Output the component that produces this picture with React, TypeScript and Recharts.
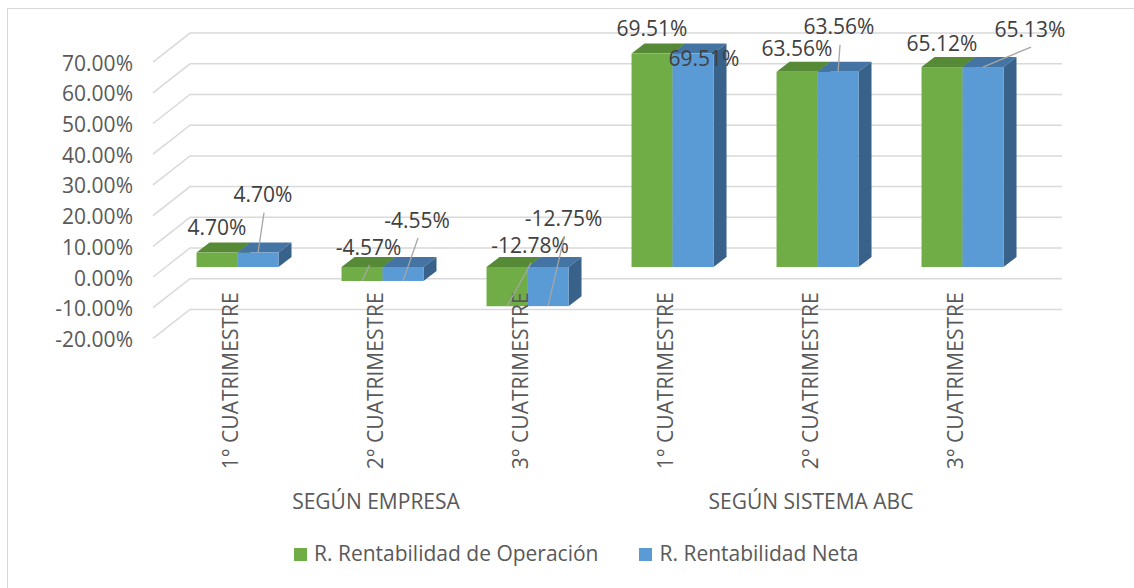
import React from 'react';
import { BarChart, Bar, XAxis, YAxis, CartesianGrid, LabelList, Legend } from 'recharts';

const categories = [
  '1° CUATRIMESTRE',
  '2° CUATRIMESTRE',
  '3° CUATRIMESTRE',
  '1° CUATRIMESTRE',
  '2° CUATRIMESTRE',
  '3° CUATRIMESTRE',
];
const groups = ['SEGÚN EMPRESA', 'SEGÚN SISTEMA ABC'];
const seriesNames = ['R. Rentabilidad de Operación', 'R. Rentabilidad Neta'];
const rentOperacion = [4.7, -4.57, -12.78, 69.51, 63.56, 65.12];
const rentNeta = [4.7, -4.55, -12.75, 69.51, 63.56, 65.13];
const yTicks = [-20, -10, 0, 10, 20, 30, 40, 50, 60, 70];

const data = categories.map((cat, i) => ({
  id: i,
  cat,
  group: groups[Math.floor(i / 3)],
  op: rentOperacion[i],
  neta: rentNeta[i],
}));

// where Excel dropped each data label: dx, dy from the top of the bar face, leader line or not
const opLabelPos = [[0, -25, 0], [6.5, -20, 1], [23, -22, 1], [0, -25, 0], [0, -23, 0], [0, -24, 0]];
const netaLabelPos = [[5, -58, 1], [14, -47, 1], [15.5, -49, 1], [11, 5, 0], [1, -45, 1], [47, -38, 1]];

// fake 3d depth
const DX = 13;
const DY = -10;
const FONT = "'Open Sans', sans-serif";
const AXIS_TEXT = '#595959';
const GREEN = '#70AD47';
const BLUE = '#5B9BD5';

const Box3D = (props: any) => {
  const { x, y, width, height, fill, topFill, sideFill } = props;
  const t = Math.min(y, y + height);
  const b = Math.max(y, y + height);
  const r = x + width;
  return (
    <g>
      <polygon points={`${x},${t} ${r},${t} ${r + DX},${t + DY} ${x + DX},${t + DY}`} fill={topFill} />
      <polygon points={`${r},${t} ${r + DX},${t + DY} ${r + DX},${b + DY} ${r},${b}`} fill={sideFill} />
      <rect x={x} y={t} width={width} height={b - t} fill={fill} />
    </g>
  );
};

const makeLabel = (pos: number[][]) => (p: any) => {
  const vb = p.viewBox && p.viewBox.width !== undefined ? p.viewBox : p;
  const { x, y, width, height } = vb;
  const value = Number(p.value);
  const idx = p.index ?? 0;
  const t = Math.min(y, y + height);
  const b = Math.max(y, y + height);
  const cx = x + width / 2;
  const [dx, dy, lead] = pos[idx];
  const lx = cx + dx;
  const ly = t + dy;
  const endY = value >= 0 ? t : b;
  return (
    <g>
      {lead ? <line x1={lx + 1} y1={ly + 18} x2={cx} y2={endY} stroke="#a6a6a6" strokeWidth={1.3} /> : null}
      <text x={lx} y={ly + 7.5} textAnchor="middle" fontSize={21} fill="#404040" style={{ fontFamily: FONT }}>
        {value.toFixed(2)}%
      </text>
    </g>
  );
};

const renderGridLine = (p: any) => {
  const { x1, x2, y1 } = p;
  const pts = `${x1 - 12.5},${y1 + 10} ${x1 + 24.5},${y1 - 19} ${x2 + 26.5},${y1 - 19}`;
  return <polyline key={p.key ?? `g-${y1}`} points={pts} fill="none" stroke="#d9d9d9" strokeWidth={1.5} />;
};

const YTick = ({ x, y, payload }: any) => (
  <text x={x - 32.5} y={y + 18.5} textAnchor="end" fontSize={21} fill={AXIS_TEXT} style={{ fontFamily: FONT }}>
    {Number(payload.value).toFixed(2)}%
  </text>
);

const CatTick = ({ x, y, payload }: any) => {
  const ty = y - 36;
  return (
    <text
      x={x}
      y={ty}
      transform={`rotate(-90 ${x} ${ty})`}
      textAnchor="end"
      fontSize={21}
      fill={AXIS_TEXT}
      style={{ fontFamily: FONT }}
    >
      {categories[payload.value]}
    </text>
  );
};

const GroupTick = ({ x, y, payload }: any) => {
  if (payload.value % 3 !== 1) return <g />;
  return (
    <text x={x - 7} y={y + 150.6} textAnchor="middle" fontSize={21} fill={AXIS_TEXT} style={{ fontFamily: FONT }}>
      {groups[Math.floor(payload.value / 3)]}
    </text>
  );
};

const renderLegend = () => {
  const colors = [GREEN, BLUE];
  return (
    <div style={{ display: 'flex', alignItems: 'center', fontFamily: FONT, fontSize: 21, color: AXIS_TEXT, lineHeight: 'normal' }}>
      {seriesNames.map((n, i) => (
        <div key={n} style={{ display: 'flex', alignItems: 'center', marginRight: 41 }}>
          <span style={{ display: 'inline-block', width: 13, height: 13, background: colors[i], marginRight: 7, marginTop: 3 }} />
          <span>{n}</span>
        </div>
      ))}
    </div>
  );
};

export default function App() {
  return (
    <div style={{ position: 'absolute', left: 0, top: 0, width: 1134, height: 588, overflow: 'hidden', background: '#fff', fontFamily: FONT }}>
      <div
        style={{
          position: 'absolute',
          left: 7,
          top: 8,
          width: 1300,
          height: 800,
          borderLeft: '1.5px solid #d9d9d9',
          borderTop: '1.5px solid #d9d9d9',
        }}
      />
      <div style={{ position: 'absolute', left: 0, top: 0 }}>
        <BarChart
          width={1134}
          height={588}
          data={data}
          margin={{ top: 52.1, right: 98.5, bottom: 199.6, left: 0 }}
          barGap={0}
          barCategoryGap="21.4%"
        >
          <CartesianGrid vertical={false} horizontal={renderGridLine} />
          <XAxis dataKey="id" type="category" height={30} interval={0} axisLine={false} tickLine={false} tickSize={0} tickMargin={0} tick={<CatTick />} />
          <XAxis xAxisId="grp" dataKey="id" type="category" height={30} interval={0} axisLine={false} tickLine={false} tickSize={0} tickMargin={0} tick={<GroupTick />} />
          <YAxis
            type="number"
            domain={[-20, 70]}
            ticks={yTicks}
            width={165.5}
            axisLine={false}
            tickLine={false}
            tickSize={0}
            tickMargin={0}
            tick={<YTick />}
            interval={0}
          />
          <Legend layout="horizontal" verticalAlign="middle" align="center" wrapperStyle={{ top: 538.6, left: 294, width: 'auto' }} content={renderLegend} />
          <Bar
            dataKey="op"
            name={seriesNames[0]}
            fill={GREEN}
            isAnimationActive={false}
            shape={(p: any) => <Box3D {...p} topFill="#578a37" sideFill="#4a7530" />}
          >
            <LabelList dataKey="op" content={makeLabel(opLabelPos)} />
          </Bar>
          <Bar
            dataKey="neta"
            name={seriesNames[1]}
            fill={BLUE}
            isAnimationActive={false}
            shape={(p: any) => <Box3D {...p} topFill="#4474a3" sideFill="#386289" />}
          >
            <LabelList dataKey="neta" content={makeLabel(netaLabelPos)} />
          </Bar>
        </BarChart>
      </div>
    </div>
  );
}
